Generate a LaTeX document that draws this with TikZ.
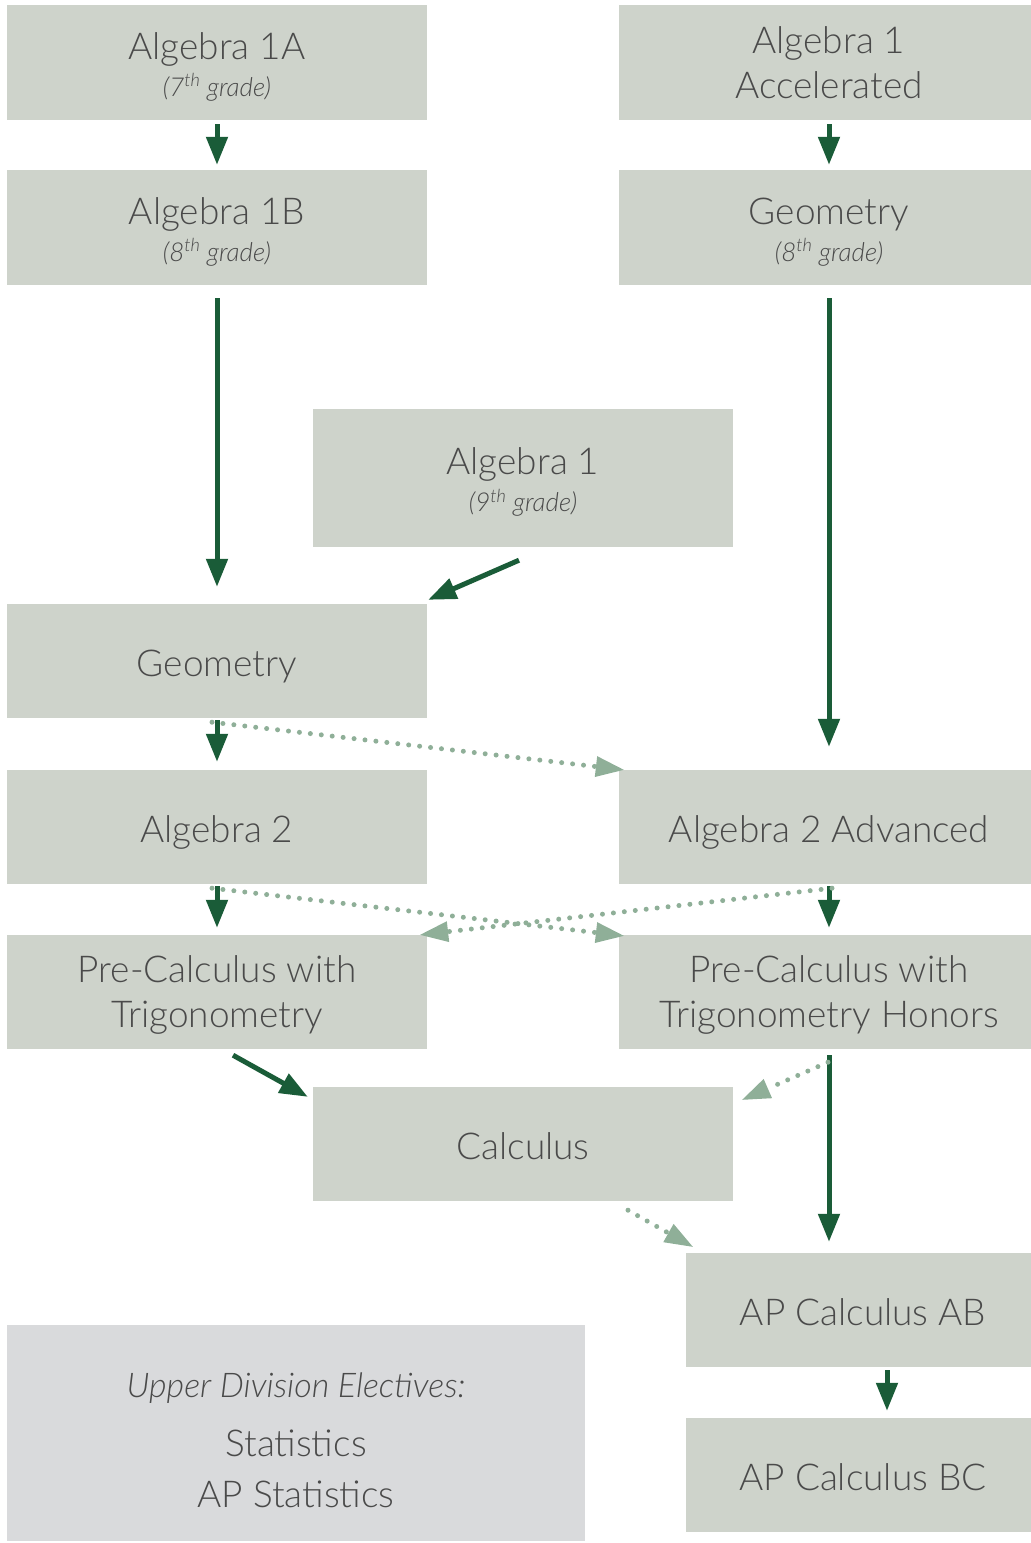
\documentclass[tikz,border=0pt]{standalone}
\usepackage{fontspec}
\setmainfont{Lato}[UprightFont={* Light},ItalicFont={* Light Italic}]
\usetikzlibrary{arrows.meta}
\definecolor{boxc}{HTML}{CED3CB}
\definecolor{elec}{HTML}{D9DADC}
\definecolor{txt}{HTML}{4A4A4A}
\definecolor{dkc}{HTML}{1A5C38}
\definecolor{ltc}{HTML}{8FAF98}
\newcommand{\sub}[1]{{\fontsize{26}{30}\selectfont\itshape #1}}
\newcommand{\bx}[2][-6pt]{\raisebox{#1}[\height][\depth]{\begin{tabular}{@{}c@{}}#2\end{tabular}}}
\begin{document}
\begin{tikzpicture}[x=1pt,y=-1pt,
  box/.style={fill=boxc, inner sep=0pt, text=txt,
    minimum width=420pt, minimum height=115pt,
    font=\fontsize{37}{45}\selectfont},
  dk/.style={draw=dkc, line width=5pt, -{Triangle[length=28pt,width=21pt]}},
  dt/.style={draw=ltc, line width=5pt, line cap=round, dash pattern=on 0pt off 11pt,
    -{Triangle[length=28pt,width=21pt,line width=0pt]}}]
\useasboundingbox (0,0) rectangle (1031,1543);
\node[box] (a1a) at (217,62.5) {\bx{Algebra 1A\\[-8pt]\sub{(7\textsuperscript{th} grade)}}};
\node[box] (acc) at (829,62.5) {\bx[-4pt]{Algebra 1\\Accelerated}};
\node[box] (a1b) at (217,227.5) {\bx{Algebra 1B\\[-8pt]\sub{(8\textsuperscript{th} grade)}}};
\node[box] (g8) at (829,227.5) {\bx{Geometry\\[-8pt]\sub{(8\textsuperscript{th} grade)}}};
\node[box, minimum height=138pt] (alg1) at (523,478) {\bx{Algebra 1\\[-8pt]\sub{(9\textsuperscript{th} grade)}}};
\node[box, minimum height=114pt] (geo) at (217,661) {\bx{Geometry}};
\node[box, minimum height=114pt] (a2) at (217,827) {\bx{Algebra 2}};
\node[box, minimum height=114pt] (a2a) at (829,827) {\bx{Algebra 2 Advanced}};
\node[box, minimum height=114pt] (pc) at (217,992) {\bx[-4pt]{Pre-Calculus with\\Trigonometry}};
\node[box, minimum height=114pt] (pch) at (829,992) {\bx[-4pt]{Pre-Calculus with\\Trigonometry Honors}};
\node[box, minimum height=114pt] (calc) at (523,1144) {\bx{Calculus}};
\node[box, minimum width=354pt, minimum height=114pt] (ab) at (863,1310) {\bx{AP Calculus AB}};
\node[box, minimum width=354pt, minimum height=114pt] (bc) at (863,1475) {\bx{AP Calculus BC}};
\node[box, fill=elec, minimum width=578pt, minimum height=216pt, font=\fontsize{37}{51}\selectfont] (el) at (296,1433)
  {\bx[-9pt]{{\fontsize{34}{38}\selectfont\itshape Upper Division Electives:}\\[8pt]Statistics\\AP Statistics}};
% solid arrows
\draw[dk] ([yshift=-4pt]a1a.south) -- ([yshift=5pt]a1b.north);
\draw[dk] ([yshift=-4pt]acc.south) -- ([yshift=5pt]g8.north);
\draw[dk] ([yshift=-13pt]a1b.south) -- ([yshift=17pt]geo.north);
\draw[dk] ([yshift=-13pt]g8.south) -- ([yshift=23pt]a2a.north);
\draw[dk] ([xshift=-4pt,yshift=-13pt]alg1.south) -- ([xshift=1pt,yshift=4pt]geo.north east);
\draw[dk] ([yshift=-2pt]geo.south) -- ([yshift=8pt]a2.north);
\draw[dk] ([yshift=-2pt]a2.south) -- ([yshift=7pt]pc.north);
\draw[dk] ([yshift=-2pt]a2a.south) -- ([yshift=7pt]pch.north);
\draw[dk] ([xshift=16pt,yshift=-6pt]pc.south) -- ([xshift=-5pt,yshift=-10pt]calc.north west);
\draw[dk] ([yshift=-6pt]pch.south) -- ([yshift=11pt]pch.south |- ab.north);
\draw[dk] ([xshift=24pt,yshift=-3pt]ab.south) -- ([xshift=24pt,yshift=7pt]bc.north);
% dotted arrows
\draw[dt] ([xshift=-5pt,yshift=-4pt]geo.south) -- ([xshift=5pt]a2a.north west);
\draw[dt] ([xshift=-5pt,yshift=-4pt]a2.south) -- ([xshift=5pt,yshift=-1pt]pch.north west);
\draw[dt] ([xshift=3pt,yshift=-4pt]a2a.south) -- ([xshift=-7pt]pc.north east);
\draw[dt] ([xshift=-1pt,yshift=-13pt]pch.south) -- ([xshift=9pt,yshift=-13pt]calc.north east);
\draw[dt] ([xshift=105pt,yshift=-9pt]calc.south) -- ([xshift=7pt,yshift=6pt]ab.north west);
\end{tikzpicture}
\end{document}
